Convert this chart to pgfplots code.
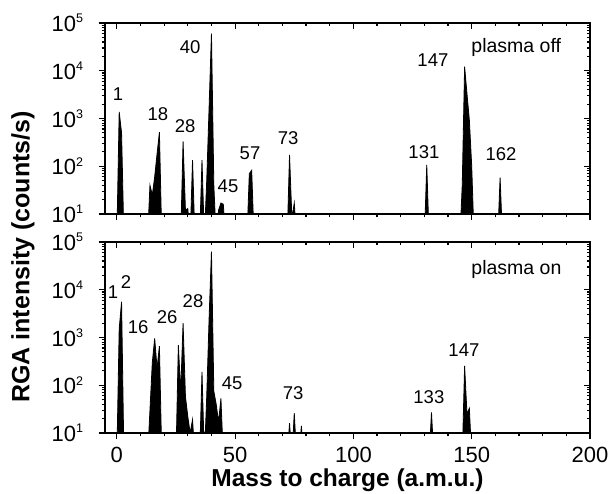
\documentclass[border=0pt]{standalone}
\usepackage{pgfplots}
\pgfplotsset{compat=1.18}
\usepackage{fontspec}
\setmainfont{Liberation Sans}
\newcommand{\ten}[1]{10\raisebox{8.5pt}{\fontsize{12.5}{12.5}\selectfont #1}}

\pgfplotstableread{
m y
0 3
1 1380
2 500
3 3
13 3
14 40
15 25
16 60
17 180
18 515
19 3
27 3
28 330
29 12
30 13
31 3
32 135
33 3
35 3
36 135
37 3
38 50
39 1700
40 60000
41 40
42 3
43 12
44 17
45 16
46 3
55 3
56 70
57 82
58 3
72 3
73 172
74 8
75 17
76 3
130 3
131 107
132 3
145 3
146 40
147 12150
148 3300
149 930
150 100
151 3
161 3
162 58
163 3
200 3
}\offtable

\pgfplotstableread{
m y
0 3
1 1500
2 5600
3 3
13 3
14 30
15 300
16 960
17 226
18 660
19 3
25 3
26 690
27 73
28 2000
29 58
30 22
31 10
32 19
33 3
35 3
36 190
37 3
38 58
39 2500
40 63000
41 75
42 40
43 17
44 53
45 3
72 3
73 16
74 3
75 26
76 3
77 3
78 14
79 3
132 3
133 27
134 3
146 3
147 253
148 25
149 33
150 3
200 3
}\ontable

\tikzset{annot/.style={font=\fontsize{18.5}{21}\selectfont, inner sep=0pt},
  ptext/.style={font=\fontsize{19.5}{22}\selectfont, inner sep=0pt, anchor=west}}
\pgfplotsset{
  every axis/.append style={
    scale only axis, width=485pt, height=191pt,
    xmin=-5, xmax=200, ymin=10, ymax=100000,
    axis line style={line width=1.3pt},
    every tick/.style={black, line width=1.2pt},
    major tick length=6.5pt, minor tick length=3.5pt,
    xtick={0,50,100,150,200}, minor x tick num=4,
    ytick={10,100,1000,10000,100000},
    tick label style={font=\fontsize{22}{24}\selectfont},
    xticklabel style={yshift=-4pt},
    yticklabel style={xshift=-12pt},
    /pgf/number format/assume math mode=true,
  },
}

\begin{document}
\begin{tikzpicture}
\useasboundingbox (0,0) rectangle (608pt,493pt);

% top panel: plasma off
\begin{semilogyaxis}[at={(105pt,279pt)}, anchor=south west,
  xtick pos=left, ytick pos=left, tick align=outside,
  yticklabels={\ten{1},\ten{2},\ten{3},\ten{4},\ten{5}}, xticklabels={}]
\addplot[draw=black, fill=black, line width=0.8pt] table[x=m,y=y] {\offtable} \closedcycle;
\node[annot] at (axis cs:0.5,3240) {1};
\node[annot] at (axis cs:17.4,1240) {18};
\node[annot] at (axis cs:28.9,697) {28};
\node[annot] at (axis cs:31,31400) {40};
\node[annot] at (axis cs:47,38.5) {45};
\node[annot] at (axis cs:56.3,189) {57};
\node[annot] at (axis cs:72.4,390) {73};
\node[annot] at (axis cs:129.8,199) {131};
\node[annot] at (axis cs:133.6,16800) {147};
\node[annot] at (axis cs:162.4,181) {162};
\node[ptext] at (axis cs:149.8,31400) {plasma off};
\end{semilogyaxis}
\begin{semilogyaxis}[at={(105pt,279pt)}, anchor=south west,
  xtick pos=right, ytick pos=right, tick align=inside,
  xticklabels={}, yticklabels={}]
\addplot[draw=none] coordinates {(0,1)};
\end{semilogyaxis}

% bottom panel: plasma on
\begin{semilogyaxis}[at={(105pt,60pt)}, anchor=south west,
  xtick pos=left, ytick pos=left, tick align=outside,
  yticklabels={\ten{1},\ten{2},\ten{3},\ten{4},\ten{5}}]
\addplot[draw=black, fill=black, line width=0.8pt] table[x=m,y=y] {\ontable} \closedcycle;
\node[annot] at (axis cs:-1.6,8970) {1};
\node[annot] at (axis cs:3.9,14500) {2};
\node[annot] at (axis cs:9,1660) {16};
\node[annot] at (axis cs:21.3,2690) {26};
\node[annot] at (axis cs:32.2,5800) {28};
\node[annot] at (axis cs:48.7,111) {45};
\node[annot] at (axis cs:74.5,69) {73};
\node[annot] at (axis cs:131.9,57) {133};
\node[annot] at (axis cs:146.7,547) {147};
\node[ptext] at (axis cs:149.8,27200) {plasma on};
\end{semilogyaxis}
\begin{semilogyaxis}[at={(105pt,60pt)}, anchor=south west,
  xtick pos=right, ytick pos=right, tick align=inside,
  xticklabels={}, yticklabels={}]
\addplot[draw=none] coordinates {(0,1)};
\end{semilogyaxis}

\node[rotate=90, font=\fontsize{25}{28}\selectfont\bfseries] at (23pt,236pt) {RGA intensity (counts/s)};
\node[font=\fontsize{24.5}{28}\selectfont\bfseries] at (347.5pt,13pt) {Mass to charge (a.m.u.)};
\end{tikzpicture}
\end{document}
